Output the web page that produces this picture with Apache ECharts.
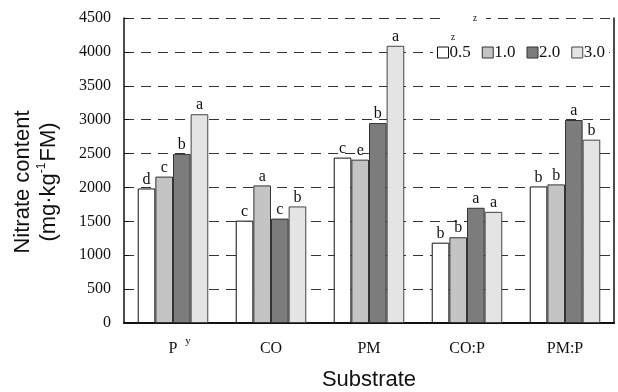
<!DOCTYPE html>
<html>
<head>
<meta charset="utf-8">
<script src="https://cdn.jsdelivr.net/npm/echarts@6/dist/echarts.min.js"></script>
<style>
  html, body { margin: 0; padding: 0; background: #fff; }
  #chart { width: 618px; height: 392px; }
</style>
</head>
<body>
<div id="chart"></div>
<script>
// 数据
const substrates = ['P', 'CO', 'PM', 'CO:P', 'PM:P']
const seriesNames = ['0.5', '1.0', '2.0', '3.0']
const v05 = [1985, 1510, 2440, 1185, 2015]
const v10 = [2160, 2030, 2410, 1265, 2045]
const v20 = [2495, 1540, 2950, 1700, 2995]
const v30 = [3080, 1720, 4090, 1640, 2705]
const l05 = ['d', 'c', 'c', 'b', 'b']
const l10 = ['c', 'a', 'e', 'b', 'b']
const l20 = ['b', 'c', 'b', 'a', 'a']
const l30 = ['a', 'b', 'a', 'a', 'b']
const yTicks = [0, 500, 1000, 1500, 2000, 2500, 3000, 3500, 4000, 4500]

const SERIF = '"Liberation Serif", "Times New Roman", serif'
const SANS = '"Liberation Sans", Arial, sans-serif'

// 柱子样式
const BAR_STYLES = [
  { color: '#ffffff', borderColor: '#111' },
  { color: '#c4c4c4', borderColor: '#333' },
  { color: '#7c7c7c', borderColor: '#333' },
  { color: '#e4e4e4', borderColor: '#444' },
]

const values = [v05, v10, v20, v30]
const letters = [l05, l10, l20, l30]

const chart = echarts.init(document.getElementById('chart'), null, { renderer: 'canvas' })

const series = seriesNames.map((name, i) => ({
  name,
  type: 'bar',
  data: values[i],
  barWidth: '18%',
  barGap: '0%',
  yAxisIndex: 0,
  itemStyle: { color: BAR_STYLES[i].color, borderColor: BAR_STYLES[i].borderColor, borderWidth: 1 },
  label: {
    show: true,
    position: 'top',
    distance: 1,
    fontFamily: SERIF,
    fontSize: 16,
    color: '#111',
    formatter: (p) => letters[i][p.dataIndex],
  },
}))

chart.setOption({
  animation: false,
  backgroundColor: '#fff',
  grid: { left: 124, right: 4, top: 18, bottom: 69, outerBoundsMode: 'none' },
  legend: {
    data: seriesNames,
    right: 9,
    top: 42,
    padding: [2, 4],
    backgroundColor: '#fff',
    icon: 'rect',
    itemWidth: 11,
    itemHeight: 11,
    itemGap: 11,
    itemStyle: { borderWidth: 1 },
    textStyle: { fontFamily: SERIF, fontSize: 17, color: '#111', padding: [0, 0, 0, -4] },
  },
  xAxis: {
    type: 'category',
    data: substrates,
    name: 'Substrate',
    nameLocation: 'middle',
    nameGap: 46,
    nameTextStyle: { fontFamily: SANS, fontSize: 22, color: '#111' },
    axisLine: { lineStyle: { color: '#111', width: 2 } },
    axisTick: { inside: true, length: 5, interval: 0, lineStyle: { color: '#111' } },
    axisLabel: { fontFamily: SERIF, fontSize: 16, color: '#111', margin: 18, interval: 0 },
  },
  yAxis: [
    {
      type: 'value',
      min: yTicks[0],
      max: yTicks[yTicks.length - 1],
      interval: 500,
      axisLine: { show: true, lineStyle: { color: '#111', width: 1.5 } },
      axisTick: { show: true, inside: true, length: 5, lineStyle: { color: '#111' } },
      axisLabel: { fontFamily: SERIF, fontSize: 16, color: '#111', margin: 13, formatter: (v) => String(v) },
      splitLine: { show: true, lineStyle: { color: '#333', width: 1, type: [10, 7] } },
    },
    {
      type: 'value',
      position: 'right',
      min: yTicks[0],
      max: yTicks[yTicks.length - 1],
      interval: 500,
      axisLine: { show: true, lineStyle: { color: '#111', width: 1.5 } },
      axisTick: { show: false },
      axisLabel: { show: false },
      splitLine: { show: false },
    },
  ],
  graphic: [
    {
      type: 'text',
      x: 36,
      y: 182,
      rotation: Math.PI / 2,
      style: {
        text: '{n|Nitrate content}\n{n|(mg·kg}{s|-1}{n|FM)}',
        align: 'center',
        verticalAlign: 'middle',
        fill: '#111',
        rich: {
          n: { fontFamily: SANS, fontSize: 22, lineHeight: 26, fill: '#111' },
          s: { fontFamily: SANS, fontSize: 12, lineHeight: 26, verticalAlign: 'top', fill: '#111', padding: [0, 1, 0, 0] },
        },
      },
    },
    // 顶线上的 z 标注（白底遮住虚线）
    {
      type: 'rect', z: 100,
      shape: { x: 440, y: 14, width: 46, height: 8 },
      style: { fill: '#fff' },
    },
    {
      type: 'text', x: 475, y: 18, z: 101,
      style: { text: 'z', fontFamily: SERIF, fontSize: 10, fill: '#222', align: 'center', verticalAlign: 'middle' },
    },
    {
      type: 'text', x: 453, y: 37,
      style: { text: 'z', fontFamily: SERIF, fontSize: 10, fill: '#222', align: 'center', verticalAlign: 'middle' },
    },
    {
      type: 'text', x: 200, y: 217,
      style: { text: 'y', fontFamily: SERIF, fontSize: 9, fill: '#555', align: 'center', verticalAlign: 'middle' },
    },
    {
      type: 'text', x: 188, y: 341,
      style: { text: 'y', fontFamily: SERIF, fontSize: 11, fill: '#111', align: 'center', verticalAlign: 'middle' },
    },
  ],
  series,
})
</script>
</body>
</html>
